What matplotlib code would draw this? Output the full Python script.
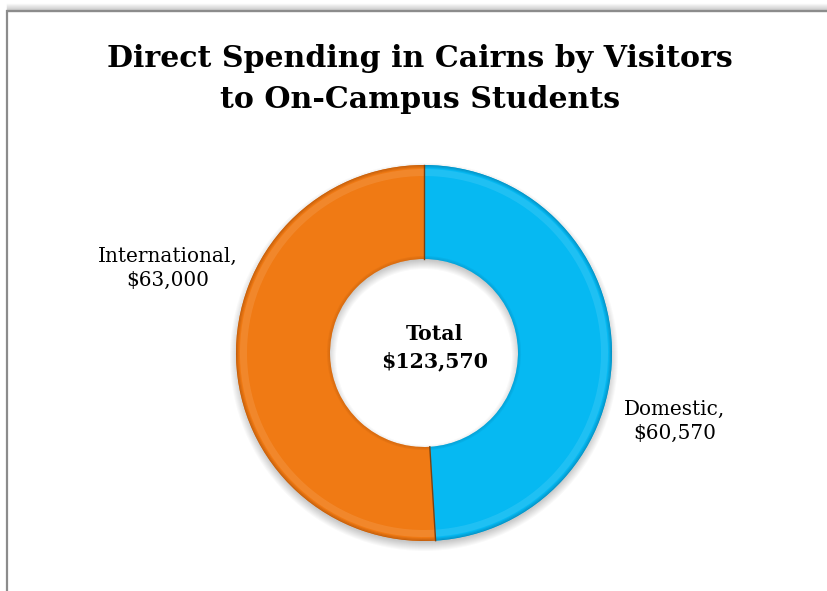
import numpy as np
import matplotlib.pyplot as plt
from matplotlib.patches import Rectangle, Wedge

# spending by visitor origin (AUD)
labels = ["Domestic", "International"]
values = [60570, 63000]
colors = ["#06B9F2", "#F07A14"]
rims = ["#0590C2", "#C25E0C"]
total = sum(values)

W, H = 828, 591
fig = plt.figure(figsize=(W / 100, H / 100), dpi=100)
ax = fig.add_axes([0, 0, 1, 1])

# chart area border with a soft shadow along the top
for k in range(8):
    ax.plot([7, W + 5], [H - 11 + k, H - 11 + k], color="gray",
            alpha=0.05 * (8 - k), lw=1, zorder=1)
ax.add_patch(Rectangle((7, -20), W + 20, H - 11 + 20, fill=False,
                       edgecolor="#8C8C8C", lw=1.6, zorder=2))

cx, cy = 424, H - 353
r_out, hole = 188, 94

# drop shadow under the ring
for k in range(10):
    ax.add_patch(Wedge((cx, cy - 4), r_out + 6 - k, 0, 360,
                       width=hole + 12 - 2 * k, facecolor="black",
                       alpha=0.025, lw=0, zorder=2))

wedges, _ = ax.pie(values, startangle=90, counterclock=False, radius=r_out,
                   center=(cx, cy), colors=colors, frame=True,
                   wedgeprops=dict(width=hole, edgecolor="none"))
for w in wedges:
    w.set_zorder(3)

# bevel: darker rim at both edges, lighter band just inside the outer one
for w, rim in zip(wedges, rims):
    t1, t2 = w.theta1, w.theta2
    for k in range(3):
        ax.add_patch(Wedge((cx, cy), r_out - k, t1, t2, width=1,
                           facecolor=rim, lw=0, alpha=0.9 - 0.3 * k, zorder=4))
        ax.add_patch(Wedge((cx, cy), r_out - hole + 1 + k, t1, t2, width=1,
                           facecolor=rim, lw=0, alpha=0.5 - 0.15 * k, zorder=4))
    ax.add_patch(Wedge((cx, cy), r_out - 4, t1, t2, width=7,
                       facecolor="white", alpha=0.1, lw=0, zorder=4))
    ang = np.deg2rad(t1)
    ax.plot([cx + (r_out - hole) * np.cos(ang), cx + r_out * np.cos(ang)],
            [cy + (r_out - hole) * np.sin(ang), cy + r_out * np.sin(ang)],
            color="#7A4212", lw=1.0, zorder=5)

ax.set_xlim(0, W)
ax.set_ylim(0, H)
ax.set_aspect("equal")
ax.axis("off")

serif = "DejaVu Serif"
ax.text(420, H - 79, "Direct Spending in Cairns by Visitors\nto On-Campus Students",
        ha="center", va="center", fontsize=21.6, fontweight="bold",
        family=serif, linespacing=1.55, color="black")

ax.text(cx + 11, H - 348, f"Total\n${total:,}", ha="center", va="center",
        fontsize=14.8, fontweight="bold", family=serif, linespacing=1.45)

ax.text(168, H - 268, f"{labels[1]},\n${values[1]:,}", ha="center",
        va="center", fontsize=14.4, family=serif, linespacing=1.33)
ax.text(675, H - 421, f"{labels[0]},\n${values[0]:,}", ha="center",
        va="center", fontsize=14.4, family=serif, linespacing=1.33)

fig.savefig("out.png", dpi=100, facecolor="white")
